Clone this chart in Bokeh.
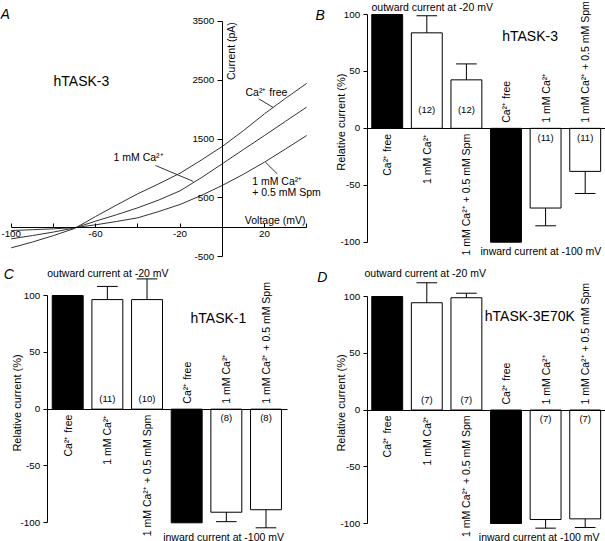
import numpy as np
from bokeh.plotting import figure
from bokeh.models import Range1d, LinearAxis, FixedTicker, Label
from bokeh.layouts import column, row
from bokeh.embed import file_html
from bokeh.resources import INLINE
from bokeh.core.properties import value

# ---------------- data ----------------
voltage_mv = [-100, -90, -80, -70, -60, -50, -40, -30, -20, -10, 0, 10, 20, 30, 40]
current_ca_free = [-348, -250, -140, -20, 184, 380, 570, 740, 919, 1140, 1373, 1640, 1927, 2190, 2443]
current_1mM_ca = [-195, -140, -80, -10, 105, 215, 332, 465, 620, 840, 1079, 1320, 1558, 1800, 2041]
current_ca_spm = [-54, -40, -25, -5, 43, 100, 162, 270, 388, 540, 711, 900, 1106, 1330, 1559]

iv_x_major = [-100, -60, -20, 20]
iv_x_minor = [-80, -40, 0, 40]
iv_y_ticks = [-500, 500, 1500, 2500, 3500]
bar_y_ticks = [-100, -50, 0, 50, 100]

conditions = ["Ca\u00b2\u207a free", "1 mM Ca\u00b2\u207a", "1 mM Ca\u00b2\u207a + 0.5 mM Spm"]
bar_pos = [1, 2, 3, 4, 5, 6]
bar_colors = ["black", "white", "white", "black", "white", "white"]

task3_mean = [100, 83.9, 42.6, -100, -70.0, -37.8]
task3_sem = [0, 15.0, 14.0, 0, 15.6, 19.4]
task3_n = ["", "(12)", "(12)", "", "(11)", "(11)"]

task1_mean = [100, 96.4, 96.4, -100, -90.7, -88.5]
task1_sem = [0, 11.6, 18.2, 0, 8.3, 15.9]
task1_n = ["", "(11)", "(10)", "", "(8)", "(8)"]

e70k_mean = [100, 94.5, 98.9, -100, -96.5, -95.9]
e70k_sem = [0, 17.6, 4.0, 0, 7.6, 7.6]
e70k_n = ["", "(7)", "(7)", "", "(7)", "(7)"]

# ---------------- layout helpers ----------------
SX = 1.0
SY = 1.0
FONT = "Liberation Sans"
TOP_H, BOT_H = 266, 275
A_W, B_W = 328, 277
C_W, D_W = 305, 300


def fs(px):
    return f"{px * SX:.1f}px"


def hyphen_labels(ticks):
    return {t: str(t) for t in ticks if t < 0}


def make_panel(w, h, ref_x0, ref_y0, xcal, ycal):
    pa, da, pb, db = xcal
    kx = (db - da) / (pb - pa)
    qa, ea, qb, eb = ycal
    ky = (eb - ea) / (qb - qa)

    def to_x(rx):
        return da + (rx - pa) * kx

    def to_y(ry):
        return ea + (ry - qa) * ky

    ref_x1 = ref_x0 + w / SX
    ref_y1 = ref_y0 + h / SY
    p = figure(width=w, height=h, title=None,
               x_range=Range1d(to_x(ref_x0), to_x(ref_x1)),
               y_range=Range1d(to_y(ref_y1), to_y(ref_y0)),
               x_axis_location=None, y_axis_location=None,
               output_backend="svg", toolbar_location=None,
               min_border=0, outline_line_color=None,
               background_fill_color="white", border_fill_color="white")
    p.grid.visible = False
    return p, to_x, to_y, abs(1.0 / ky)


def add_label(p, to_x, to_y, rx, ry, text, size, align="left", baseline="middle",
              angle=0.0, style="normal"):
    p.add_layout(Label(x=to_x(rx), y=to_y(ry), text=text, text_font=FONT,
                       text_font_size=fs(size), text_font_style=style,
                       text_color="black", text_align=align,
                       text_baseline=baseline, angle=angle))


def axis_style(ax, tick_out=4, standoff=3):
    ax.axis_line_color = "black"
    ax.axis_line_width = 1
    ax.major_tick_line_color = "black"
    ax.minor_tick_line_color = "black"
    ax.major_tick_out = tick_out
    ax.major_tick_in = 0
    ax.minor_tick_in = 0
    ax.minor_tick_out = 0
    ax.major_label_standoff = standoff
    ax.major_label_text_font = FONT
    ax.major_label_text_font_size = fs(9.8)
    ax.major_label_text_color = "black"


# ---------------- panel A: I-V curves ----------------
pA, ax, ay, _ = make_panel(A_W, TOP_H, 0, 0, (10.7, -100, 221.7, 0), (256.3, -500, 20.7, 3500))
for cur in (current_ca_free, current_1mM_ca, current_ca_spm):
    pA.line(voltage_mv, cur, line_color="#333333", line_width=1)

xa = LinearAxis(fixed_location=0, bounds=(-100, 40),
                ticker=FixedTicker(ticks=iv_x_major, minor_ticks=iv_x_minor),
                major_label_overrides=hyphen_labels(iv_x_major))
axis_style(xa, tick_out=0, standoff=4)
xa.major_tick_in = 4
xa.minor_tick_in = 4
pA.add_layout(xa, "below")
ya = LinearAxis(fixed_location=0, bounds=(-500, 3500), ticker=FixedTicker(ticks=iv_y_ticks),
                major_label_overrides=hyphen_labels(iv_y_ticks))
axis_style(ya, tick_out=5, standoff=3)
pA.add_layout(ya, "left")

# leader lines (label -> trace)
leader_x0 = [17.3, -31.6, 20.5]
leader_y0 = [2182, 1050, 1106]
leader_x1 = [24.2, -13.7, 26.1]
leader_y1 = [2035, 780, 909]
pA.segment(leader_x0, leader_y0, leader_x1, leader_y1, line_color="#333333", line_width=1)

add_label(pA, ax, ay, 0, 13.3, "A", 14, style="italic")
add_label(pA, ax, ay, 315, 14.3, "B", 14, style="italic")
add_label(pA, ax, ay, 53, 80, "hTASK-3", 14)
add_label(pA, ax, ay, 245, 91.7, "Ca\u00b2\u207a free", 10.5)
add_label(pA, ax, ay, 113, 156.7, "1 mM Ca\u00b2\u207a", 10.5)
add_label(pA, ax, ay, 251.7, 180, "1 mM Ca\u00b2\u207a", 10.5)
add_label(pA, ax, ay, 251.7, 191.7, "+ 0.5 mM Spm", 10.5)
add_label(pA, ax, ay, 305, 219.3, "Voltage (mV)", 10.5, align="right")
add_label(pA, ax, ay, 230.8, 21.7, "Current (pA)", 10.5, align="right", angle=np.pi / 2)


# ---------------- bar panels ----------------
def bar_panel(w, h, ref_x0, ref_y0, xcal, ycal, axis_ref_x, mean, sem, counts,
              n_pos_y, n_neg_y, title, title_pos, out_pos, in_pos, ylab_pos, letter=None):
    p, tx, ty, ppu = make_panel(w, h, ref_x0, ref_y0, xcal, ycal)
    axis_x = tx(axis_ref_x)
    yax = LinearAxis(fixed_location=axis_x, bounds=(-100, 100), ticker=FixedTicker(ticks=bar_y_ticks),
                     major_label_overrides=hyphen_labels(bar_y_ticks))
    axis_style(yax, tick_out=4, standoff=3)
    p.add_layout(yax, "left")
    zax = LinearAxis(fixed_location=0, bounds=(axis_x, 6.53), ticker=FixedTicker(ticks=[]))
    axis_style(zax, tick_out=0)
    p.add_layout(zax, "below")

    p.vbar(x=bar_pos, top=mean, bottom=0, width=0.78, fill_color=bar_colors,
           line_color="black", line_width=1)
    ex, e0, e1 = [], [], []
    for x, m, s in zip(bar_pos, mean, sem):
        if s > 0:
            ex.append(x)
            e0.append(m)
            e1.append(m + np.sign(m) * s)
    p.segment(ex, e0, ex, e1, line_color="black", line_width=1)
    p.segment([x - 0.26 for x in ex], e1, [x + 0.26 for x in ex], e1,
              line_color="black", line_width=1)

    off = 5.5 / ppu
    p.text(x=bar_pos[:3], y=[-off] * 3, text=conditions, angle=np.pi / 2,
           text_align="right", text_baseline="middle", text_font=value(FONT),
           text_font_size=fs(10.5), text_color="black")
    p.text(x=bar_pos[3:], y=[off] * 3, text=conditions, angle=np.pi / 2,
           text_align="left", text_baseline="middle", text_font=value(FONT),
           text_font_size=fs(10.5), text_color="black")
    ny = [n_pos_y if m > 0 else n_neg_y for m in mean]
    p.text(x=bar_pos, y=ny, text=counts, text_align="center", text_baseline="middle",
           text_font=value(FONT), text_font_size=fs(9.5), text_color="black")

    add_label(p, tx, ty, title_pos[0], title_pos[1], title, 14)
    add_label(p, tx, ty, out_pos[0], out_pos[1], "outward current at -20 mV", 10.5)
    add_label(p, tx, ty, in_pos[0], in_pos[1], "inward current at -100 mV", 10.5)
    add_label(p, tx, ty, ylab_pos[0], ylab_pos[1], "Relative current (%)", 11,
              align="center", angle=np.pi / 2)
    if letter is not None:
        add_label(p, tx, ty, letter[0], letter[1], letter[2], 14, style="italic")
    return p


pB = bar_panel(B_W, TOP_H, A_W / SX, 0, (386.7, 1, 584.7, 6), (241.7, -100, 14, 100), 366.7,
               task3_mean, task3_sem, task3_n, 16.3, -7.8, "hTASK-3", (501.7, 35.7),
               (371, 6.5), (480, 250), (340, 121.7))

pC = bar_panel(C_W, BOT_H, 0, TOP_H / SY, (67.2, 1, 265.5, 6), (522.3, -100, 295, 100), 46.7,
               task1_mean, task1_sem, task1_n, 9.3, -7.5, "hTASK-1", (190, 317.3),
               (46.7, 272.7), (162.7, 536), (16, 402.5),
               letter=(3.3, 273.7, "C"))

pD = bar_panel(D_W, BOT_H, C_W / SX, TOP_H / SY, (386.7, 1, 584.7, 6), (523, -100, 296, 100), 366.7,
               e70k_mean, e70k_sem, e70k_n, 9.5, -7.2, "hTASK-3E70K", (484.3, 315),
               (364, 272.5), (478.3, 536), (340, 402.5),
               letter=(316.7, 276, "D"))

layout = column(row(pA, pB), row(pC, pD))
open("out.html", "w").write(file_html(layout, INLINE))
